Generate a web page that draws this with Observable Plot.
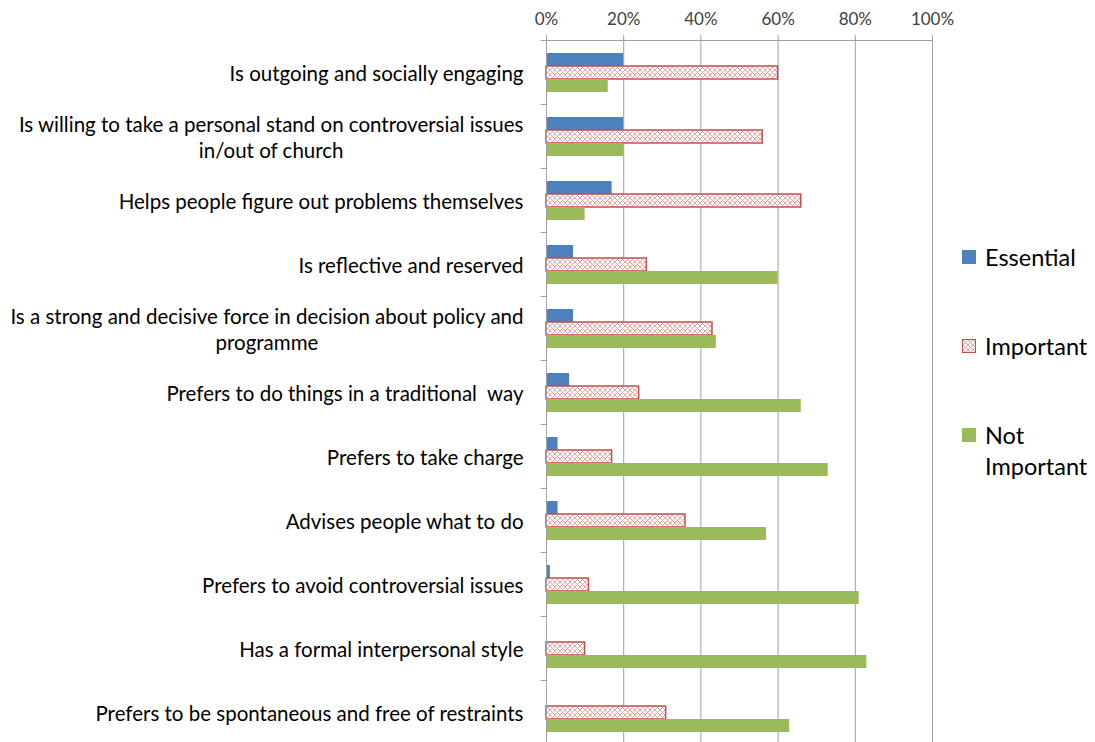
<!DOCTYPE html>
<html>
<head>
<meta charset="utf-8">
<script src="https://cdn.jsdelivr.net/npm/d3@7"></script>
<script src="https://cdn.jsdelivr.net/npm/@observablehq/plot@0.6"></script>
<style>
  html, body { margin: 0; padding: 0; background: #fff; }
  #wrap { position: relative; width: 1095px; height: 742px; overflow: hidden; font-family: Lato, "Open Sans", sans-serif; }
  #legend { position: absolute; left: 962px; top: 0; font-size: 23.5px; color: #000; }
  .item { position: absolute; left: 0; white-space: nowrap; display: flex; align-items: flex-start; }
  .sw { width: 14px; height: 14px; margin-right: 9px; flex: none; box-sizing: border-box; }
  .lbl { line-height: 31px; }
</style>
</head>
<body>
<div id="wrap"></div>
<script>
const categories = [
  "Is outgoing and socially engaging",
  "Is willing to take a personal stand on controversial issues\nin/out of church",
  "Helps people figure out problems themselves",
  "Is reflective and reserved",
  "Is a strong and decisive force in decision about policy and\nprogramme",
  "Prefers to do things in a traditional  way",
  "Prefers to take charge",
  "Advises people what to do",
  "Prefers to avoid controversial issues",
  "Has a formal interpersonal style",
  "Prefers to be spontaneous and free of restraints"
];
const seriesNames = ["Essential", "Important", "Not Important"];
const essential    = [20, 20, 17, 7, 7, 6, 3, 3, 1, 0, 0];
const important    = [60, 56, 66, 26, 43, 24, 17, 36, 11, 10, 31];
const notImportant = [16, 20, 10, 60, 44, 66, 73, 57, 81, 83, 63];
const xTicks = [0, 20, 40, 60, 80, 100];

const colors = { blue: "#4f81bd", red: "#c0504d", green: "#9bbb59", grid: "#a0a0a0" };

const rows = (vals, s) => vals.map((v, i) => ({ cat: categories[i], series: s, value: v }));
const dEss = rows(essential, seriesNames[0]);
const dImp = rows(important, seriesNames[1]);
const dNot = rows(notImportant, seriesNames[2]);

const tickSym = { draw(ctx) { ctx.moveTo(-6, 0); ctx.lineTo(0, 0); } };

const chart = Plot.plot({
  width: 1095,
  height: 742,
  marginTop: 40,
  marginLeft: 546,
  marginRight: 163,
  marginBottom: 0,
  style: { fontFamily: "Lato, 'Open Sans', sans-serif", background: "#fff" },
  x: { domain: [0, 100], axis: null },
  y: { domain: seriesNames, axis: null, paddingInner: 0, paddingOuter: 0.786 },
  fy: { domain: categories, padding: 0, axis: null, range: [40, 744] },
  marks: [
    Plot.gridX(xTicks.slice(1), { stroke: colors.grid, strokeOpacity: 1 }),
    Plot.barX(dEss, { fy: "cat", y: "series", x: "value", fill: colors.blue }),
    Plot.barX(dImp, { fy: "cat", y: "series", x: "value", fill: "url(#hatch)", stroke: colors.red, strokeWidth: 1.5 }),
    Plot.barX(dNot, { fy: "cat", y: "series", x: "value", fill: colors.green }),
    Plot.ruleX([0], { stroke: colors.grid }),
    Plot.dot(categories, { fy: d => d, frameAnchor: "top-left", symbol: tickSym, stroke: colors.grid, fill: "none", strokeWidth: 1 }),
    // top axis line (only in the first facet)
    Plot.barX([{ cat: categories[0], a: xTicks[0], b: xTicks[xTicks.length - 1] }], { fy: "cat", x1: "a", x2: "b", fill: colors.grid, insetBottom: 63 }),
    Plot.axisX({ anchor: "top", ticks: xTicks, tickFormat: d => d + "%", tickSize: 6, tickPadding: 10, stroke: colors.grid, fill: "#404040", fontSize: 17, label: null }),
    Plot.axisFy({ anchor: "left", tickSize: 0, tickPadding: 23, fontSize: 20.5, fill: "#000", label: null, lineHeight: 1.3 })
  ]
});

// hatch pattern for the "Important" series
const ns = "http://www.w3.org/2000/svg";
const defs = document.createElementNS(ns, "defs");
defs.innerHTML = `<pattern id="hatch" patternUnits="userSpaceOnUse" width="5" height="5">
  <rect width="5" height="5" fill="#fff"/>
  <path d="M0,0 L5,5 M5,0 L0,5" stroke="#e8a3a3" stroke-width="1"/>
</pattern>`;
chart.insertBefore(defs, chart.firstChild);

const wrap = document.getElementById("wrap");
wrap.appendChild(chart);

// center the lines of wrapped category labels (as the original does)
chart.querySelectorAll('g[aria-label="fy-axis tick label"] text').forEach(t => {
  const spans = t.querySelectorAll("tspan");
  if (spans.length < 2) return;
  let maxW = 0;
  spans.forEach(s => { maxW = Math.max(maxW, s.getComputedTextLength()); });
  t.setAttribute("text-anchor", "middle");
  spans.forEach(s => s.setAttribute("x", -maxW / 2));
});

// legend
const legend = document.createElement("div");
legend.id = "legend";
const hatchUrl = "data:image/svg+xml;utf8," + encodeURIComponent('<svg xmlns="http://www.w3.org/2000/svg" width="5" height="5"><path d="M0,0 L5,5 M5,0 L0,5" stroke="#e8a3a3"/></svg>');
const items = [
  { name: "Essential", top: 242, style: `background:${colors.blue}` },
  { name: "Important", top: 331, style: `background:url("${hatchUrl}") #fff; border:1.5px solid ${colors.red}` },
  { name: "Not<br>Important", top: 420, style: `background:${colors.green}` }
];
items.forEach(it => {
  const d = document.createElement("div");
  d.className = "item";
  d.style.top = it.top + "px";
  d.innerHTML = `<div class="sw" style='${it.style}; margin-top:8px'></div><div class="lbl">${it.name}</div>`;
  legend.appendChild(d);
});
wrap.appendChild(legend);
</script>
</body>
</html>
